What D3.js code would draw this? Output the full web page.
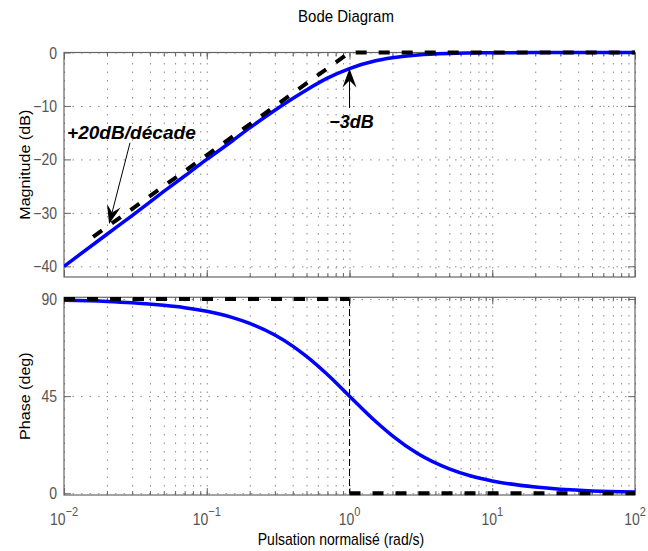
<!DOCTYPE html>
<html>
<head>
<meta charset="utf-8">
<script src="https://cdn.jsdelivr.net/npm/d3@7"></script>
<style>
  body { margin: 0; background: #fff; }
  svg { font-family: "Liberation Sans", Arial, sans-serif; }
  .grid line { stroke: #8a8a8a; stroke-dasharray: 1.5,7; stroke-width: 1; }
  .grid path { display: none; }
  .tk line { stroke: #666; }
  .tk path { display: none; }
  .lbl { fill: #555; font-size: 14px; }
</style>
</head>
<body>
<svg id="chart" width="648" height="551"></svg>
<script>
// pulsation (rad/s) et valeurs
var freq      = [0.01, 0.02, 0.03, 0.05, 0.07, 0.1, 0.15, 0.2, 0.3, 0.4, 0.5, 0.7, 1, 1.5, 2, 3, 5, 7, 10, 20, 50, 100];
var magnitude = [-40.0, -34.0, -30.5, -26.0, -23.1, -20.0, -16.6, -14.1, -10.8, -8.6, -7.0, -4.8, -3.0, -1.6, -1.0, -0.46, -0.17, -0.09, -0.04, -0.01, 0, 0];
var phase     = [89.4, 88.9, 88.3, 87.1, 86.0, 84.3, 81.5, 78.7, 73.3, 68.2, 63.4, 55.0, 45.0, 33.7, 26.6, 18.4, 11.3, 8.1, 5.7, 2.9, 1.1, 0.6];

// asymptotes (pointillés)
var magAsymW  = [0.016, 1, 100];
var magAsymDb = [-34.5, 0, 0];
var phAsymW   = [0.01, 1, 1, 100];
var phAsymDeg = [90, 90, 0, 0];

var xTicks   = [0.01, 0.1, 1, 10, 100];
var xExp     = ["\u22122", "\u22121", "0", "1", "2"];
var magTicks = [0, -10, -20, -30, -40];
var phTicks  = [0, 45, 90];

var svg = d3.select("#chart");
var stretch = 1.15; // le texte de la figure est un peu étiré en hauteur

var left = 64, right = 635;
var x = d3.scaleLog().domain([0.01, 100]).range([left, right]);
var yMag = d3.scaleLinear().domain([-42, 0]).range([277, 52.5]);
var yPh = d3.scaleLinear().domain([-0.8, 90.8]).range([495, 297.3]);

// toutes les graduations mineures de la décade
var minors = [];
[0.01, 0.1, 1, 10].forEach(function (d) {
    for (var k = 1; k < 10; k++) minors.push(d * k);
});
minors.push(100);

function at(px, py) {
    return "translate(" + px + "," + py + ") scale(1," + stretch + ")";
}

function panel(y, yTicks) {
    var top = y.range()[1], bot = y.range()[0];
    var h = bot - top, w = right - left;

    svg.append("g").attr("class", "grid")
        .attr("transform", "translate(0," + bot + ")")
        .call(d3.axisBottom(x).tickValues(minors).tickSize(-h).tickFormat(""));
    svg.append("g").attr("class", "grid")
        .attr("transform", "translate(" + left + ",0)")
        .call(d3.axisLeft(y).tickValues(yTicks).tickSize(-w).tickFormat(""));

    svg.append("rect")
        .attr("x", left).attr("y", top)
        .attr("width", w).attr("height", h)
        .attr("fill", "none").attr("stroke", "#666").attr("stroke-width", 1.2);

    // graduations intérieures
    svg.append("g").attr("class", "tk")
        .attr("transform", "translate(0," + bot + ")")
        .call(d3.axisTop(x).tickValues(minors).tickSize(4).tickFormat(""));
    svg.append("g").attr("class", "tk")
        .attr("transform", "translate(0," + bot + ")")
        .call(d3.axisTop(x).tickValues(xTicks).tickSize(7).tickFormat(""));
    svg.append("g").attr("class", "tk")
        .attr("transform", "translate(0," + top + ")")
        .call(d3.axisBottom(x).tickValues(minors).tickSize(4).tickFormat(""));
    svg.append("g").attr("class", "tk")
        .attr("transform", "translate(0," + top + ")")
        .call(d3.axisBottom(x).tickValues(xTicks).tickSize(7).tickFormat(""));
    svg.append("g").attr("class", "tk")
        .attr("transform", "translate(" + left + ",0)")
        .call(d3.axisRight(y).tickValues(yTicks).tickSize(7).tickFormat(""));
    svg.append("g").attr("class", "tk")
        .attr("transform", "translate(" + right + ",0)")
        .call(d3.axisLeft(y).tickValues(yTicks).tickSize(7).tickFormat(""));

    svg.append("g").selectAll("text")
        .data(yTicks).enter().append("text")
        .attr("class", "lbl")
        .attr("transform", function (d) { return at(left - 7, y(d) + 6); })
        .attr("text-anchor", "end")
        .text(function (d) { return d < 0 ? "\u2212" + (-d) : d; });
}

panel(yMag, magTicks);
panel(yPh, phTicks);

function clipTo(y) {
    var id = "c" + Math.round(y.range()[1]);
    svg.append("clipPath").attr("id", id).append("rect")
        .attr("x", left).attr("y", y.range()[1] - 3)
        .attr("width", right - left + 3).attr("height", y.range()[0] - y.range()[1] + 6);
    return "url(#" + id + ")";
}

var magLine = d3.line()
    .x(function (d, i) { return x(freq[i]); })
    .y(function (d) { return yMag(d); })
    .curve(d3.curveMonotoneX);
var phLine = d3.line()
    .x(function (d, i) { return x(freq[i]); })
    .y(function (d) { return yPh(d); })
    .curve(d3.curveMonotoneX);

svg.append("path").datum(magnitude)
    .attr("clip-path", clipTo(yMag))
    .attr("d", magLine)
    .attr("fill", "none").attr("stroke", "#0000ff").attr("stroke-width", 3.5);
svg.append("path").datum(phase)
    .attr("clip-path", clipTo(yPh))
    .attr("d", phLine)
    .attr("fill", "none").attr("stroke", "#0000ff").attr("stroke-width", 3.5);

// asymptotes
svg.append("path")
    .attr("d", d3.line()(magAsymW.map(function (w, i) { return [x(w), yMag(magAsymDb[i])]; })))
    .attr("fill", "none").attr("stroke", "#000").attr("stroke-width", 4)
    .attr("stroke-dasharray", "11,12");
svg.append("path")
    .attr("d", d3.line()([[x(phAsymW[0]), yPh(phAsymDeg[0])], [x(phAsymW[1]), yPh(phAsymDeg[1])]]))
    .attr("fill", "none").attr("stroke", "#000").attr("stroke-width", 4)
    .attr("stroke-dasharray", "11,12");
svg.append("path")
    .attr("d", d3.line()([[x(phAsymW[1]), yPh(phAsymDeg[1])], [x(phAsymW[2]), yPh(phAsymDeg[2])]]))
    .attr("fill", "none").attr("stroke", "#000").attr("stroke-width", 1)
    .attr("stroke-dasharray", "7,3");
svg.append("path")
    .attr("d", d3.line()([[x(phAsymW[2]), yPh(phAsymDeg[2])], [x(phAsymW[3]), yPh(phAsymDeg[3])]]))
    .attr("fill", "none").attr("stroke", "#000").attr("stroke-width", 4)
    .attr("stroke-dasharray", "11,12");

// flèches d'annotation
function arrow(x0, y0, x1, y1) {
    var a = Math.atan2(y1 - y0, x1 - x0), L = 19, W = 7, N = 12;
    svg.append("line")
        .attr("x1", x0).attr("y1", y0).attr("x2", x1 - Math.cos(a) * N).attr("y2", y1 - Math.sin(a) * N)
        .attr("stroke", "#000").attr("stroke-width", 1);
    var c = Math.cos(a), s = Math.sin(a);
    var pts = [
        [x1, y1],
        [x1 - L * c + W * s, y1 - L * s - W * c],
        [x1 - N * c, y1 - N * s],
        [x1 - L * c - W * s, y1 - L * s + W * c]
    ];
    svg.append("path").attr("d", "M" + pts.join("L") + "Z").attr("fill", "#000");
}

arrow(x(0.029), yMag(-16.9), x(0.0207), yMag(-32.1));
arrow(x(1), yMag(-10.4), x(1), yMag(-3));

svg.append("text")
    .attr("transform", "translate(" + x(0.0105) + "," + yMag(-16.2) + ") scale(1.06,1)")
    .attr("font-size", 18).attr("font-weight", "bold").attr("font-style", "italic")
    .text("+20dB/décade");
svg.append("text")
    .attr("x", x(1) + 2).attr("y", yMag(-14.1))
    .attr("text-anchor", "middle")
    .attr("font-size", 18).attr("font-weight", "bold").attr("font-style", "italic")
    .text("\u22123dB");

// étiquettes de l'axe x
svg.append("g").selectAll("text")
    .data(xTicks).enter().append("text")
    .attr("class", "lbl")
    .attr("transform", function (d) { return at(x(d), 525); })
    .attr("text-anchor", "middle")
    .each(function (d, i) {
        var t = d3.select(this);
        t.append("tspan").text("10");
        t.append("tspan").attr("dy", -8).attr("font-size", 11).text(xExp[i]);
    });

svg.append("text")
    .attr("transform", at(346, 22))
    .attr("text-anchor", "middle").attr("font-size", 15)
    .text("Bode Diagram");

svg.append("text")
    .attr("transform", at(341, 545))
    .attr("text-anchor", "middle").attr("font-size", 14)
    .text("Pulsation normalisé  (rad/s)");

svg.append("text")
    .attr("transform", "translate(30," + (52.5 + 277) / 2 + ") rotate(-90) scale(" + stretch + ",1)")
    .attr("text-anchor", "middle").attr("font-size", 14)
    .text("Magnitude (dB)");
svg.append("text")
    .attr("transform", "translate(30," + (297.3 + 495) / 2 + ") rotate(-90) scale(" + stretch + ",1)")
    .attr("text-anchor", "middle").attr("font-size", 14)
    .text("Phase (deg)");
</script>
</body>
</html>
